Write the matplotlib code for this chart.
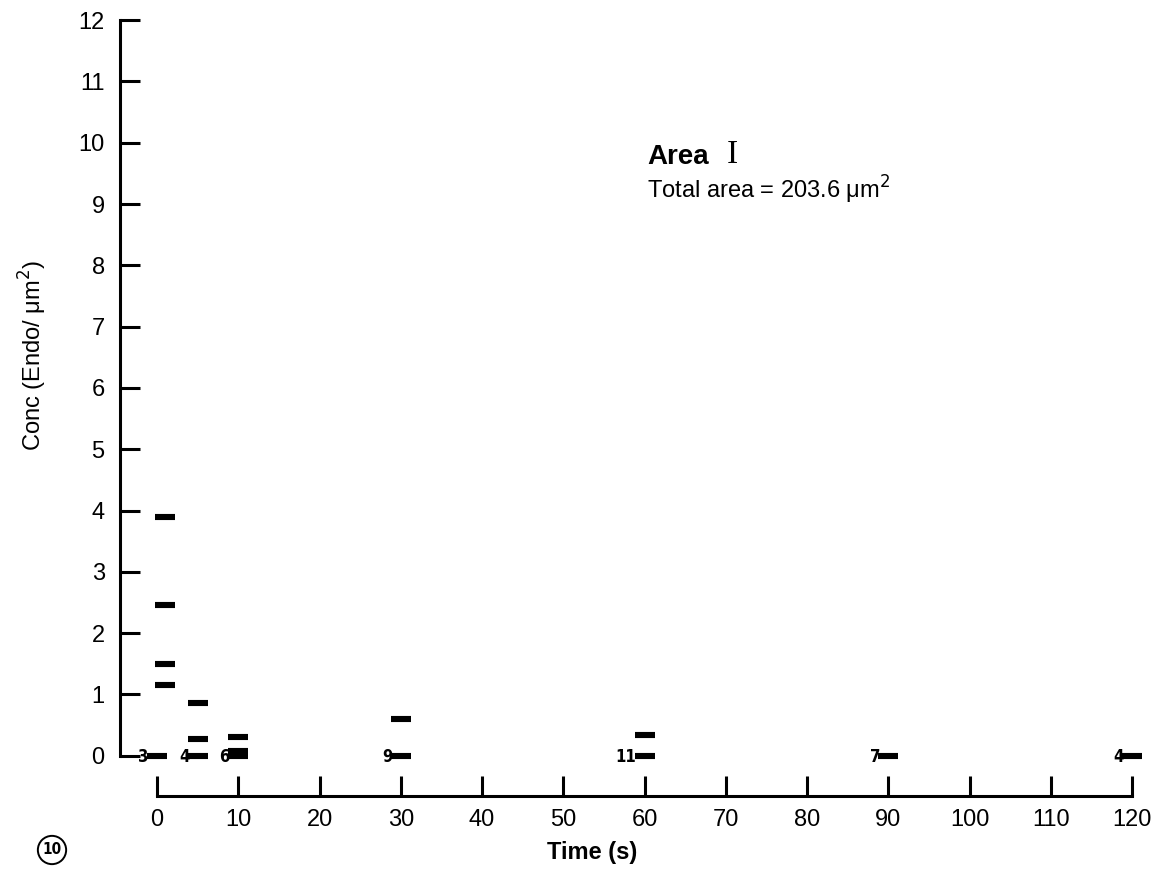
import numpy as np
import matplotlib.pyplot as plt

# measured concentrations (one dash per cell)
times = [0, 1, 1, 1, 1, 5, 5, 5, 10, 10, 10, 30, 30, 60, 60, 90, 120]
conc = [0.0, 3.9, 2.46, 1.5, 1.15, 0.86, 0.28, 0.0, 0.3, 0.08, 0.0,
        0.6, 0.0, 0.33, 0.0, 0.0, 0.0]

# number of cells with zero concentration at each time
zero_times = [0, 5, 10, 30, 60, 90, 120]
zero_counts = [3, 4, 6, 9, 11, 7, 4]

x_ticks = np.arange(0, 121, 10)
y_ticks = np.arange(0, 13, 1)

W, H = 1156, 884
fig = plt.figure(figsize=(W / 100, H / 100), dpi=100)
plt.rcParams['font.family'] = ['Liberation Sans', 'DejaVu Sans']

# pixel geometry of the original figure
x0_px, px_per_s = 157, 8.125
y0_px, px_per_c = 755.7, 61.3
left, right, top, bottom = 100, 1150, 10, 810
ax = fig.add_axes([left / W, (H - bottom) / H, (right - left) / W, (bottom - top) / H])
ax.set_xlim((left - x0_px) / px_per_s, (right - x0_px) / px_per_s)
ax.set_ylim((y0_px - bottom) / px_per_c, (y0_px - top) / px_per_c)

for s in ['top', 'right']:
    ax.spines[s].set_visible(False)
ax.spines['left'].set_position(('data', (120 - x0_px) / px_per_s))
ax.spines['left'].set_bounds(0, 12)
ax.spines['bottom'].set_position(('data', (y0_px - 796) / px_per_c))
ax.spines['bottom'].set_bounds(0, 120)
for s in ['left', 'bottom']:
    ax.spines[s].set_linewidth(2.2)

ax.set_xticks(x_ticks)
ax.set_yticks(y_ticks)
ax.tick_params(direction='in', length=14.5, width=2.2, labelsize=17, pad=9)
ax.tick_params(axis='y', pad=11)

ax.plot(times, conc, ls='none', marker='_', ms=14, mew=4.4, color='black')

narrow = dict(family='DejaVu Sans', fontstretch='condensed', fontweight='bold')
for t, n in zip(zero_times, zero_counts):
    ax.annotate(str(n), (t, 0), xytext=(-6, -1), textcoords='offset points',
                ha='right', va='center', fontsize=12, **narrow)

fig.text(33 / W, 1 - 355 / H, 'Conc (Endo/ \u03bcm$^2$)', rotation=90,
         ha='center', va='center', fontsize=17)
fig.text(592 / W, 1 - 853 / H, 'Time (s)', ha='center', va='center',
         fontsize=17, fontweight='bold')
fig.text(52 / W, 1 - 850 / H, '10', ha='center', va='center', fontsize=11,
         bbox=dict(boxstyle='circle,pad=0.3', fc='white', ec='black', lw=1.4),
         **narrow)

fig.text(647 / W, 1 - 157 / H, 'Area', ha='left', va='center', fontsize=20,
         fontweight='bold')
fig.text(727 / W, 1 - 155 / H, 'I', ha='left', va='center', fontsize=24,
         family='Liberation Serif')
fig.text(647 / W, 1 - 190 / H, 'Total area = 203.6 \u03bcm$^2$', ha='left',
         va='center', fontsize=17)

fig.savefig('out.png', dpi=100)
